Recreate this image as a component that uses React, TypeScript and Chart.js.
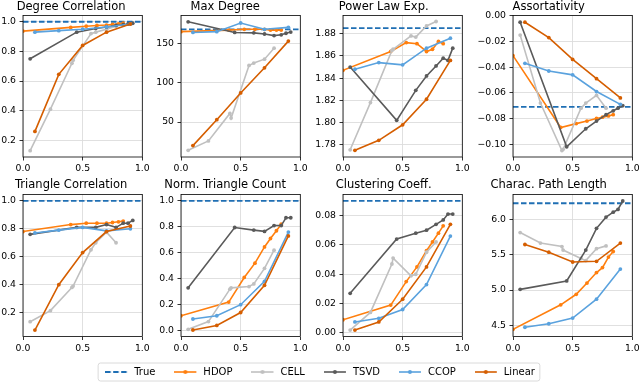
import React, { useEffect, useRef } from "react";
import { Chart, registerables } from "chart.js";

Chart.register(...registerables);

const FONT = "'DejaVu Sans', 'Liberation Sans', sans-serif";

// ---------- data ----------
const PANEL_TITLES = [
  "Degree Correlation",
  "Max Degree",
  "Power Law Exp.",
  "Assortativity",
  "Triangle Correlation",
  "Norm. Triangle Count",
  "Clustering Coeff.",
  "Charac. Path Length",
];
const SERIES_NAMES = ["True", "HDOP", "CELL", "TSVD", "CCOP", "Linear"];
const SERIES_COLORS = ["#1f6fb4", "#ff7f0e", "#c0c0c0", "#5a5a5a", "#5aa2de", "#d55e00"];

const X_TICKS = [0, 0.5, 1];
const X_HDOP = [0.0, 0.4, 0.53, 0.62, 0.7, 0.75, 0.8, 0.84];
const X_CELL = [0.06, 0.23, 0.41, 0.42, 0.57, 0.61, 0.7, 0.78];
const X_TSVD = [0.06, 0.45, 0.61, 0.7, 0.78, 0.84, 0.88, 0.92];
const X_CCOP = [0.1, 0.3, 0.5, 0.7, 0.9];
const X_LINEAR = [0.1, 0.3, 0.5, 0.7, 0.9];

const TRUE_VALUES = [1.0, 168, 1.885, -0.071, 1.0, 1.0, 0.09, 6.238];

const HDOP_VALUES = [
  [0.937, 0.962, 0.97, 0.975, 0.978, 0.982, 0.986, 0.99],
  [165, 167, 168, 168, 168, 167, 167, 167],
  [1.847, 1.864, 1.872, 1.871, 1.864, 1.866, 1.873, 1.871],
  [-0.031, -0.087, -0.084, -0.082, -0.08, -0.079, -0.078, -0.077],
  [0.78, 0.83, 0.84, 0.84, 0.84, 0.845, 0.85, 0.855],
  [0.115, 0.22, 0.41, 0.52, 0.645, 0.71, 0.77, 0.82],
  [0.009, 0.019, 0.035, 0.045, 0.056, 0.062, 0.068, 0.073],
  [4.44, 4.79, 4.94, 5.1, 5.25, 5.32, 5.47, 5.55],
];
const CELL_VALUES = [
  [0.13, 0.41, 0.72, 0.74, 0.92, 0.93, 0.95, 0.97],
  [14, 26, 61, 55, 122, 125, 130, 144],
  [1.7755, 1.818, 1.865, 1.866, 1.878, 1.877, 1.887, 1.891],
  [-0.015, -0.068, -0.105, -0.104, -0.072, -0.068, -0.062, -0.072],
  [0.135, 0.214, 0.38, 0.39, 0.65, 0.7, 0.775, 0.7],
  [0.01, 0.07, 0.32, 0.33, 0.34, 0.36, 0.48, 0.62],
  [0.002, 0.014, 0.047, 0.051, 0.039, 0.04, 0.055, 0.062],
  [5.82, 5.67, 5.62, 5.57, 5.45, 5.42, 5.59, 5.63],
];
const TSVD_VALUES = [
  [0.75, 0.93, 0.955, 0.965, 0.975, 0.98, 0.985, 0.99],
  [177.5, 164, 163.5, 162, 160, 161, 163, 164.5],
  [1.85, 1.802, 1.829, 1.842, 1.851, 1.858, 1.856, 1.867],
  [-0.005, -0.102, -0.088, -0.082, -0.077, -0.074, -0.072, -0.07],
  [0.76, 0.81, 0.81, 0.83, 0.81, 0.84, 0.84, 0.86],
  [0.33, 0.795, 0.775, 0.765, 0.81, 0.81, 0.87, 0.87],
  [0.027, 0.064, 0.068, 0.07, 0.074, 0.077, 0.081, 0.081],
  [5.01, 5.13, 5.57, 5.88, 6.04, 6.11, 6.15, 6.27],
];
const CCOP_VALUES = [
  [0.93, 0.94, 0.95, 0.965, 0.985],
  [164, 165, 176, 168, 170.5],
  [1.848, 1.854, 1.852, 1.867, 1.876],
  [-0.037, -0.043, -0.046, -0.059, -0.069],
  [0.77, 0.79, 0.81, 0.785, 0.8],
  [0.09, 0.115, 0.2, 0.38, 0.76],
  [0.0075, 0.01, 0.016, 0.033, 0.066],
  [4.47, 4.52, 4.6, 4.87, 5.3],
];
const LINEAR_VALUES = [
  [0.26, 0.645, 0.84, 0.93, 0.985],
  [20, 53, 87, 119, 153],
  [1.775, 1.784, 1.798, 1.821, 1.856],
  [-0.005, -0.017, -0.034, -0.049, -0.064],
  [0.075, 0.4, 0.63, 0.78, 0.82],
  [0.005, 0.04, 0.14, 0.35, 0.73],
  [0.002, 0.0075, 0.023, 0.045, 0.074],
  [5.65, 5.54, 5.4, 5.41, 5.67],
];

const Y_MIN = [0.087, 5.5, 1.769, -0.11, 0.029, -0.045, -0.0024, 4.338];
const Y_MAX = [1.043, 185.7, 1.8965, 0.0003, 1.046, 1.05, 0.0944, 6.364];
const Y_TICKS = [
  [0.2, 0.4, 0.6, 0.8, 1.0],
  [50, 100, 150],
  [1.78, 1.8, 1.82, 1.84, 1.86, 1.88],
  [-0.1, -0.08, -0.06, -0.04, -0.02, 0.0],
  [0.2, 0.4, 0.6, 0.8, 1.0],
  [0.0, 0.2, 0.4, 0.6, 0.8, 1.0],
  [0.0, 0.02, 0.04, 0.06, 0.08],
  [4.5, 5.0, 5.5, 6.0],
];
const Y_DECIMALS = [1, 0, 2, 2, 1, 1, 2, 1];

// ---------- layout (not data) ----------
const PLOT_LEFT = [23, 181, 343, 513];
const Y_AXIS_W = [23, 31, 38, 48];
const PLOT_W = 119.3;
const ROW_TOP = [0, 178];
const ROW_H = [177, 182];
const X_AXIS_H = [20, 23.5];
const TITLE_PAD = [1.6, 2.6];
const LEGEND_TOP = 348;

const framePlugin = {
  id: "frame",
  afterDraw(chart: any) {
    const { ctx, chartArea: a } = chart;
    ctx.save();
    ctx.strokeStyle = "#000";
    ctx.lineWidth = 0.8;
    ctx.strokeRect(a.left, a.top, a.right - a.left, a.bottom - a.top);
    ctx.restore();
  },
};

const legendFramePlugin = {
  id: "legendFrame",
  afterDraw(chart: any) {
    const hb = chart.legend && chart.legend.legendHitBoxes;
    if (!hb || !hb.length) return;
    const left = hb[0].left - 7;
    const last = hb[hb.length - 1];
    const right = last.left + last.width + 5;
    const top = 15;
    const h = 18;
    const r = 2.5;
    const ctx = chart.ctx;
    ctx.save();
    ctx.strokeStyle = "#d0d0d0";
    ctx.lineWidth = 0.8;
    ctx.beginPath();
    ctx.moveTo(left + r, top);
    ctx.lineTo(right - r, top);
    ctx.arcTo(right, top, right, top + r, r);
    ctx.lineTo(right, top + h - r);
    ctx.arcTo(right, top + h, right - r, top + h, r);
    ctx.lineTo(left + r, top + h);
    ctx.arcTo(left, top + h, left, top + h - r, r);
    ctx.lineTo(left, top + r);
    ctx.arcTo(left, top, left + r, top, r);
    ctx.closePath();
    ctx.stroke();
    ctx.restore();
  },
};

function fmt(v: number, dec: number) {
  const s = Number(v).toFixed(dec);
  return s.replace("-", "\u2212");
}

function panelGeometry(i: number) {
  const col = i % 4;
  const row = Math.floor(i / 4);
  const yW = Y_AXIS_W[col];
  const left = PLOT_LEFT[col] - yW;
  const width = Math.round(2 * yW + PLOT_W);
  const padRight = width - yW - PLOT_W;
  return { col, row, yW, left, width, padRight, top: ROW_TOP[row], height: ROW_H[row] };
}

function makeLegendIcon(color: string, dashed: boolean) {
  const c = document.createElement("canvas");
  c.width = 24;
  c.height = 8;
  const ctx = c.getContext("2d")!;
  ctx.strokeStyle = color;
  ctx.fillStyle = color;
  ctx.lineWidth = dashed ? 1.8 : 1.6;
  if (dashed) ctx.setLineDash([5.5, 2.5]);
  ctx.beginPath();
  ctx.moveTo(0, 4);
  ctx.lineTo(22, 4);
  ctx.stroke();
  if (!dashed) {
    ctx.beginPath();
    ctx.arc(11, 4, 2, 0, Math.PI * 2);
    ctx.fill();
  }
  return c;
}

export default function App() {
  const panelRefs = useRef<(HTMLCanvasElement | null)[]>([]);
  const legendRef = useRef<HTMLCanvasElement | null>(null);

  useEffect(() => {
    const charts: Chart[] = [];
    const seriesX = [X_HDOP, X_CELL, X_TSVD, X_CCOP, X_LINEAR];
    const seriesY = [HDOP_VALUES, CELL_VALUES, TSVD_VALUES, CCOP_VALUES, LINEAR_VALUES];
    const tickFont = { family: FONT, size: 9.3 };
    const gridOpts = {
      color: "#dcdcdc",
      lineWidth: 0.9,
      tickColor: "#000",
      tickLength: 3.5,
      tickWidth: 0.8,
      drawTicks: true,
    };

    PANEL_TITLES.forEach((title, i) => {
      const canvas = panelRefs.current[i];
      if (!canvas) return;
      const g = panelGeometry(i);
      const datasets: any[] = [
        {
          label: SERIES_NAMES[0],
          data: [
            { x: 0, y: TRUE_VALUES[i] },
            { x: 1, y: TRUE_VALUES[i] },
          ],
          borderColor: SERIES_COLORS[0],
          backgroundColor: SERIES_COLORS[0],
          borderWidth: 1.8,
          borderDash: [5.5, 2.5],
          pointRadius: 0,
          order: 6,
        },
        ...seriesY.map((vals, s) => ({
          label: SERIES_NAMES[s + 1],
          data: vals[i].map((y, k) => ({ x: seriesX[s][k], y })),
          borderColor: SERIES_COLORS[s + 1],
          backgroundColor: SERIES_COLORS[s + 1],
          borderWidth: 1.6,
          pointRadius: 1.9,
          pointBorderWidth: 0,
          pointHoverRadius: 0,
          order: 5 - s,
        })),
      ];
      const chart = new Chart(canvas, {
        type: "line",
        data: { datasets },
        plugins: [framePlugin],
        options: {
          animation: false,
          responsive: false,
          devicePixelRatio: 1,
          events: [],
          layout: { padding: { left: 0, top: 0, bottom: 0, right: g.padRight } },
          plugins: {
            legend: { display: false },
            tooltip: { enabled: false },
            title: {
              display: true,
              text: title,
              color: "#000",
              font: { family: FONT, size: 11.5, weight: "normal" as any },
              padding: { top: 0, bottom: TITLE_PAD[g.row] },
            },
          },
          scales: {
            x: {
              type: "linear",
              min: 0,
              max: 1,
              bounds: "data",
              afterBuildTicks: (s: any) => {
                s.ticks = X_TICKS.map((v) => ({ value: v }));
              },
              afterFit: (s: any) => {
                s.height = X_AXIS_H[g.row];
              },
              ticks: {
                autoSkip: false,
                maxRotation: 0,
                color: "#000",
                font: tickFont,
                padding: 3,
                callback: (v: any) => fmt(v, 1),
              },
              grid: gridOpts,
              border: { display: false },
            },
            y: {
              type: "linear",
              min: Y_MIN[i],
              max: Y_MAX[i],
              bounds: "data",
              afterBuildTicks: (s: any) => {
                s.ticks = Y_TICKS[i].map((v) => ({ value: v }));
              },
              afterFit: (s: any) => {
                s.width = g.yW;
              },
              ticks: {
                autoSkip: false,
                color: "#000",
                font: tickFont,
                padding: 3.5,
                callback: (v: any) => fmt(v, Y_DECIMALS[i]),
              },
              grid: gridOpts,
              border: { display: false },
            },
          },
        } as any,
      });
      charts.push(chart);
    });

    if (legendRef.current) {
      const icons = SERIES_NAMES.map((_, k) => makeLegendIcon(SERIES_COLORS[k], k === 0));
      const legendChart = new Chart(legendRef.current, {
        type: "line",
        data: { datasets: [] },
        plugins: [legendFramePlugin],
        options: {
          animation: false,
          responsive: false,
          devicePixelRatio: 1,
          events: [],
          layout: { padding: 0 },
          scales: { x: { display: false }, y: { display: false } },
          plugins: {
            tooltip: { enabled: false },
            title: { display: false },
            legend: {
              display: true,
              position: "top",
              align: "center",
              labels: {
                usePointStyle: true,
                pointStyleWidth: 24,
                boxHeight: 8,
                padding: 19,
                color: "#000",
                font: { family: FONT, size: 10 },
                generateLabels: () =>
                  SERIES_NAMES.map((text, k) => ({
                    text,
                    pointStyle: icons[k],
                    fillStyle: "transparent",
                    strokeStyle: "transparent",
                    lineWidth: 0,
                    hidden: false,
                    datasetIndex: k,
                    fontColor: "#000",
                  })),
              },
            },
          },
        } as any,
      });
      charts.push(legendChart);
    }

    return () => {
      charts.forEach((c) => c.destroy());
    };
  }, []);

  return (
    <div
      style={{
        position: "absolute",
        left: 0,
        top: 0,
        width: 640,
        height: 382,
        overflow: "hidden",
        background: "#fff",
      }}
    >
      {PANEL_TITLES.map((t, i) => {
        const g = panelGeometry(i);
        return (
          <canvas
            key={t}
            ref={(el) => {
              panelRefs.current[i] = el;
            }}
            width={g.width}
            height={g.height}
            style={{
              position: "absolute",
              left: g.left,
              top: g.top,
              width: g.width,
              height: g.height,
            }}
          />
        );
      })}
      <canvas
        ref={legendRef}
        width={640}
        height={90}
        style={{ position: "absolute", left: 0, top: LEGEND_TOP, width: 640, height: 90 }}
      />
    </div>
  );
}
